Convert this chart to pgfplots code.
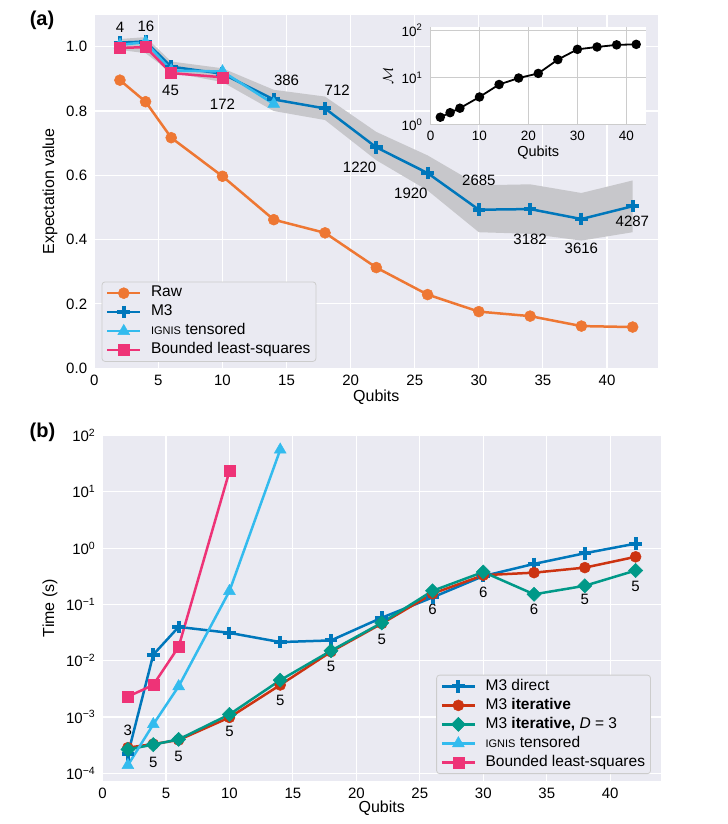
\documentclass[border=0pt]{standalone}
\usepackage{fontspec}
\setmainfont{Liberation Sans}
\usepackage{pgfplots}
\pgfplotsset{compat=1.18}
\definecolor{bg}{RGB}{234,234,242}
\definecolor{cOrange}{HTML}{EE7733}
\definecolor{cBlue}{HTML}{0077BB}
\definecolor{cCyan}{HTML}{33BBEE}
\definecolor{cMag}{HTML}{EE3377}
\definecolor{cRed}{HTML}{CC3311}
\definecolor{cTeal}{HTML}{009988}
\definecolor{band}{RGB}{199,199,203}
\definecolor{lgdraw}{RGB}{204,204,204}
\definecolor{igrid}{RGB}{204,204,204}

\pgfplotsset{
  legend image code/.code={\draw[mark repeat=2,mark phase=2,#1] plot coordinates {(0bp,0bp) (16.5bp,0bp) (33bp,0bp)};},
  sea/.style={
    scale only axis,
    axis background/.style={fill=bg},
    axis line style={draw=none},
    grid=major,
    grid style={white, line width=1.1bp},
    major tick length=0pt,
    minor tick length=0pt,
    tick label style={font=\fontsize{15bp}{17bp}\selectfont},
    label style={font=\fontsize{16bp}{18bp}\selectfont},
    /pgf/number format/assume math mode=true,
    xticklabel style={inner sep=0pt, yshift=-7bp},
    yticklabel style={inner sep=0pt, xshift=-7bp},
    legend cell align=left,
    legend style={fill=bg, draw=lgdraw, rounded corners=3bp, line width=0.8bp,
      font=\fontsize{15.5bp}{17bp}\selectfont,
      nodes={inner sep=1.5bp, text height=11bp, text depth=3.5bp},
      row sep=1.5bp, column sep=8bp, inner xsep=4bp, inner ysep=2.5bp},
  },
}

\begin{document}
\begin{tikzpicture}[x=1bp,y=1bp]
\useasboundingbox (0,0) rectangle (728bp,824bp);

% ---------------- panel (a) ----------------
\begin{axis}[sea, at={(94.3bp,455.8bp)}, anchor=south west,
  width=564bp, height=353.6bp,
  xmin=0, xmax=44, ymin=0, ymax=1.1,
  xtick={0,5,10,15,20,25,30,35,40},
  ytick={0,0.2,0.4,0.6,0.8,1.0},
  yticklabel style={/pgf/number format/fixed, /pgf/number format/fixed zerofill, /pgf/number format/precision=1},
  xlabel={Qubits}, ylabel={Expectation value},
  xlabel style={at={(axis description cs:0.5,-0.0815)}, anchor=center},
  ylabel style={at={(axis description cs:-0.0785,0.5)}, anchor=center},
  legend style={at={(0.013,0.018)}, anchor=south west},
]
\addplot[fill=band, draw=none, forget plot] coordinates {
 (2,1.024) (4,1.03) (6,0.954) (10,0.933) (14,0.866) (18,0.845) (22,0.735) (26,0.662) (30,0.569) (34,0.572) (38,0.545) (42,0.584)
 (42,0.423) (38,0.397) (34,0.418) (30,0.423) (26,0.553) (22,0.647) (18,0.772) (14,0.80) (10,0.89) (6,0.92) (4,0.98) (2,0.99)};
\addplot[cOrange, line width=2.5bp, mark=*, mark size=5.5bp, mark options={fill=cOrange, draw=cOrange, line width=0.5bp}] coordinates {
 (2,0.896) (4,0.829) (6,0.717) (10,0.597) (14,0.462) (18,0.421) (22,0.313) (26,0.229) (30,0.176) (34,0.162) (38,0.131) (42,0.128)};
\addlegendentry{Raw}
\addplot[cBlue, line width=2.5bp, mark=+, mark size=6.3bp, mark options={line width=4bp}] coordinates {
 (2,1.013) (4,1.016) (6,0.938) (10,0.916) (14,0.836) (18,0.808) (22,0.687) (26,0.607) (30,0.493) (34,0.495) (38,0.464) (42,0.504)};
\addlegendentry{M3}
\addplot[cCyan, line width=2.5bp, mark=triangle*, mark size=6.8bp, mark options={fill=cCyan, line width=0.5bp}] coordinates {
 (2,1.006) (4,1.014) (6,0.926) (10,0.923) (14,0.822)};
\addlegendentry{{\fontsize{11bp}{12bp}\selectfont IGNIS} tensored}
\addplot[cMag, line width=2.5bp, mark=square*, mark size=5.5bp, mark options={fill=cMag, line width=0.5bp}] coordinates {
 (2,0.996) (4,0.999) (6,0.918) (10,0.905)};
\addlegendentry{Bounded least-squares}
\begin{scope}[every node/.style={font=\fontsize{15bp}{17bp}\selectfont, anchor=center}]
\node at (axis cs:2,1.061) {4};
\node at (axis cs:4.03,1.065) {16};
\node at (axis cs:5.95,0.865) {45};
\node at (axis cs:10,0.822) {172};
\node at (axis cs:15,0.894) {386};
\node at (axis cs:18.95,0.865) {712};
\node at (axis cs:20.7,0.625) {1220};
\node at (axis cs:24.7,0.544) {1920};
\node at (axis cs:30,0.583) {2685};
\node at (axis cs:34,0.402) {3182};
\node at (axis cs:38,0.373) {3616};
\node at (axis cs:41.98,0.458) {4287};
\end{scope}
\end{axis}

% ---------------- inset ----------------
\begin{axis}[scale only axis, at={(430.5bp,699bp)}, anchor=south west,
  width=215.5bp, height=98bp,
  xmin=0, xmax=44, ymode=log, ymin=1, ymax=117,
  xtick={0,10,20,30,40}, ytick={1,10,100},
  yticklabels={10\textsuperscript{0},10\textsuperscript{1},10\textsuperscript{2}},
  axis background/.style={fill=white},
  axis line style={draw=none},
  grid=major, grid style={igrid, line width=1bp},
  major tick length=0pt, minor tick length=0pt,
  tick label style={font=\fontsize{13.5bp}{15bp}\selectfont},
  /pgf/number format/assume math mode=true,
  xticklabel style={inner sep=0pt, yshift=-6bp},
  yticklabel style={inner sep=0pt, xshift=-8bp},
  xlabel={Qubits}, ylabel={$\mathcal{M}$},
  label style={font=\fontsize{14.5bp}{16bp}\selectfont},
  xlabel style={at={(axis description cs:0.5,-0.283)}, anchor=center},
  ylabel style={at={(axis description cs:-0.197,0.5)}, anchor=center},
]
\addplot[black, line width=1.8bp, mark=*, mark size=3.8bp, mark options={fill=black}] coordinates {
 (2,1.46) (4,1.82) (6,2.26) (10,3.9) (14,7.15) (18,9.8) (22,12.25) (26,24) (30,39.5) (34,44.3) (38,49.1) (42,50.3)};
\end{axis}

% ---------------- panel (b) ----------------
\begin{axis}[sea, at={(102.5bp,43.4bp)}, anchor=south west,
  width=558.5bp, height=345.1bp,
  xmin=0, xmax=44, ymode=log, ymin=7.41e-5, ymax=100,
  xtick={0,5,10,15,20,25,30,35,40},
  ytick={1e-4,1e-3,1e-2,1e-1,1,10,100},
  yticklabels={10\textsuperscript{−4},10\textsuperscript{−3},10\textsuperscript{−2},10\textsuperscript{−1},10\textsuperscript{0},10\textsuperscript{1},10\textsuperscript{2}},
  xlabel={Qubits}, ylabel={Time (s)},
  xlabel style={at={(axis description cs:0.5,-0.0794)}, anchor=center},
  ylabel style={at={(axis description cs:-0.094,0.5)}, anchor=center},
  legend style={at={(0.982,0.019)}, anchor=south east},
]
\addplot[cBlue, line width=2.5bp, mark=+, mark size=6.3bp, mark options={line width=4bp}] coordinates {
 (2,2.17e-4) (4,0.0128) (6,0.0398) (10,0.0312) (14,0.0214) (18,0.0229) (22,0.058) (26,0.133) (30,0.318) (34,0.524) (38,0.81) (42,1.2)};
\addlegendentry{M3 direct}
\addplot[cRed, line width=2.5bp, mark=*, mark size=5.5bp, mark options={fill=cRed, line width=0.5bp}] coordinates {
 (2,2.85e-4) (4,3.3e-4) (6,3.9e-4) (10,9.8e-4) (14,3.7e-3) (18,0.0144) (22,0.0456) (26,0.155) (30,0.33) (34,0.366) (38,0.45) (42,0.70)};
\addlegendentry{M3 \textbf{iterative}}
\addplot[cTeal, line width=2.5bp, mark=square*, mark size=5bp, mark options={fill=cTeal, line width=0.5bp, rotate=45}] coordinates {
 (2,2.65e-4) (4,3.23e-4) (6,4.0e-4) (10,1.11e-3) (14,4.5e-3) (18,0.015) (22,0.047) (26,0.174) (30,0.376) (34,0.151) (38,0.214) (42,0.40)};
\addlegendentry{M3 \textbf{iterative,} \textit{D} = 3}
\addplot[cCyan, line width=2.5bp, mark=triangle*, mark size=6.8bp, mark options={fill=cCyan, line width=0.5bp}] coordinates {
 (2,1.39e-4) (4,7.4e-4) (6,3.5e-3) (10,0.172) (14,55.8)};
\addlegendentry{{\fontsize{11bp}{12bp}\selectfont IGNIS} tensored}
\addplot[cMag, line width=2.5bp, mark=square*, mark size=5.5bp, mark options={fill=cMag, line width=0.5bp}] coordinates {
 (2,2.3e-3) (4,3.7e-3) (6,0.0177) (10,23.2)};
\addlegendentry{Bounded least-squares}
\begin{scope}[every node/.style={font=\fontsize{15bp}{17bp}\selectfont, anchor=center}]
\node at (axis cs:2,5.7e-4) {3};
\node at (axis cs:4,1.55e-4) {5};
\node at (axis cs:6,1.97e-4) {5};
\node at (axis cs:10,5.48e-4) {5};
\node at (axis cs:14,1.95e-3) {5};
\node at (axis cs:18,8.05e-3) {5};
\node at (axis cs:22,0.024) {5};
\node at (axis cs:26,0.0818) {6};
\node at (axis cs:30,0.161) {6};
\node at (axis cs:34,0.0818) {6};
\node at (axis cs:38,0.125) {5};
\node at (axis cs:42,0.206) {5};
\end{scope}
\end{axis}

\node[font=\bfseries\fontsize{20bp}{22bp}\selectfont] at (42bp,804bp) {(a)};
\node[font=\bfseries\fontsize{20bp}{22bp}\selectfont] at (42.5bp,392bp) {(b)};
\end{tikzpicture}
\end{document}
